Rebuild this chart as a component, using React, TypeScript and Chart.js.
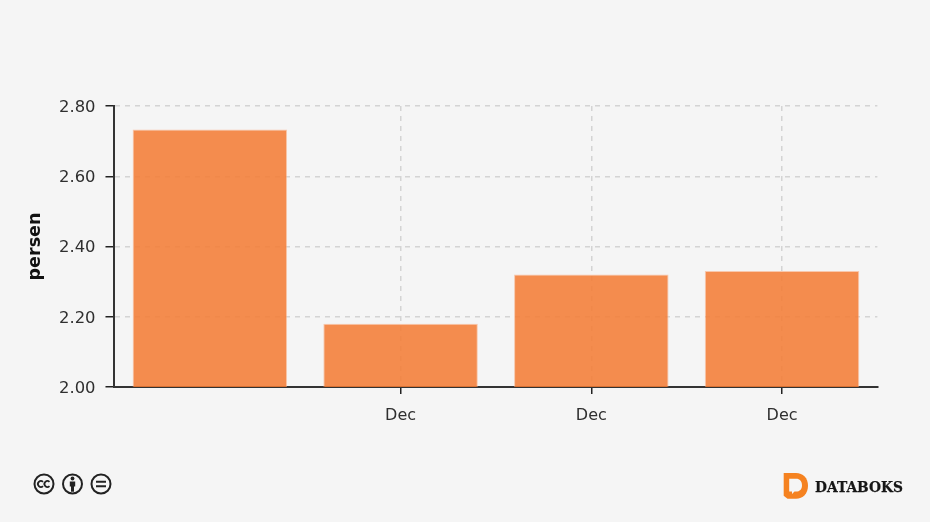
import React, { useEffect, useRef } from "react";
import { Chart, registerables } from "chart.js";

Chart.register(...registerables);

const categories = ["", "Dec", "Dec", "Dec"];
const values = [2.733, 2.18, 2.32, 2.33];
const yTicks = ["2.00", "2.20", "2.40", "2.60", "2.80"];
const yTitle = "persen";
const brand = "DATABOKS";

const FONT = "'DejaVu Sans', sans-serif";
const INK = "#2f2f2f";
const GRID = "rgba(0,0,0,0.135)";

export default function App() {
  const ref = useRef<HTMLCanvasElement | null>(null);
  useEffect(() => {
    const chart = new Chart(ref.current!, {
      type: "bar",
      data: {
        labels: categories,
        datasets: [
          {
            data: values,
            backgroundColor: "rgba(243,122,50,0.86)",
            borderColor: "rgba(250,170,125,0.6)",
            borderWidth: 1,
            categoryPercentage: 1,
            barPercentage: 0.81,
          },
        ],
      },
      options: {
        animation: false,
        responsive: false,
        layout: { padding: { top: 106, right: 52.6, left: 0, bottom: 0 } },
        plugins: { legend: { display: false }, tooltip: { enabled: false } },
        scales: {
          x: {
            afterFit: (s: any) => { s.height = 135; },
            grid: {
              offset: false,
              color: (c: any) => (c.index === 0 ? "rgba(0,0,0,0)" : GRID),
              tickColor: (c: any) => (c.index === 0 ? "rgba(0,0,0,0)" : "#222"),
              tickLength: 7,
              tickWidth: 1.5,
              lineWidth: 1.5,
            },
            border: { color: "#333", width: 2, dash: [5, 5] },
            ticks: { color: INK, font: { family: FONT, size: 16 }, padding: 12, maxRotation: 0, autoSkip: false },
          },
          y: {
            min: 2,
            max: 2.8,
            afterFit: (s: any) => { s.width = 114.49; },
            grid: { color: GRID, tickColor: "#222", tickLength: 9, tickWidth: 1.5, lineWidth: 1.5 },
            border: { color: "#333", width: 2, dash: [5, 5] },
            ticks: {
              color: INK,
              font: { family: FONT, size: 16.4 },
              padding: 10,
              labelOffset: 1.6,
              stepSize: 0.2,
              callback: (_v: any, i: number) => yTicks[i],
            },
            title: {
              display: true,
              text: yTitle,
              color: "#111",
              font: { family: FONT, size: 17.6, weight: "bold" },
              padding: { top: 25, bottom: 0 },
            },
          },
        },
      },
    } as any);
    return () => chart.destroy();
  }, []);

  return (
    <div style={{ position: "fixed", left: 0, top: 0, width: 930, height: 522, background: "#f5f5f5", overflow: "hidden" }}>
      <canvas ref={ref} width={930} height={522} style={{ position: "absolute", left: 0, top: 0, width: 930, height: 522 }} />
      <svg width={930} height={522} style={{ position: "absolute", left: 0, top: 0 }}>
        <g fill="none" stroke="#222" strokeWidth={2}>
          <circle cx={44} cy={484} r={9.5} />
          <circle cx={72.5} cy={484} r={9.5} />
          <circle cx={101} cy={484} r={9.5} />
          <path d="M43 481.8a3 3 0 1 0 0 4.4M49.5 481.8a3 3 0 1 0 0 4.4" strokeWidth={1.8} />
          <path d="M96 481.8h10M96 486.2h10" strokeWidth={2} />
        </g>
        <g fill="#222">
          <circle cx={72.5} cy={478.5} r={1.9} />
          <path d="M69.8 481.5h5.4v5h-1.2v5.2h-3v-5.2h-1.2z" />
        </g>
        <path fill="#f58220" d="M783.7 473h12.3c7 0 12 5 12 12.7s-5 13-12 13h-8.5l-3.8-3z" />
        <path fill="#f5f5f5" d="M789.2 478.7h7c3.5 0 5.8 2.5 5.8 6.5s-2.3 6.3-5.8 6.3h-1.7l-2.5 2.6v-2.6h-2.8z" />
        <text x={815} y={491.5} fontFamily="'DejaVu Serif', serif" fontWeight="bold" fontSize={15.5} fill="#161616" stroke="#161616" strokeWidth={0.25} textLength={88} lengthAdjust="spacingAndGlyphs">{brand}</text>
      </svg>
    </div>
  );
}
